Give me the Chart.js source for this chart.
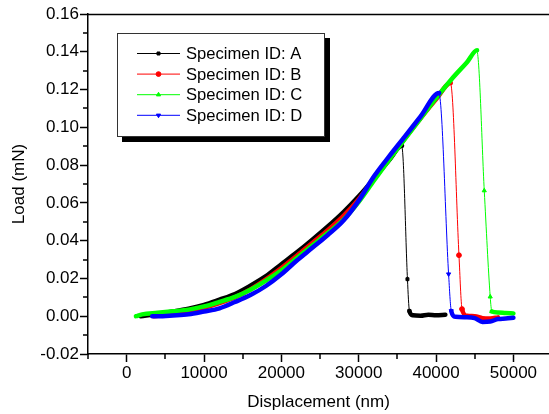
<!DOCTYPE html>
<html>
<head>
<meta charset="utf-8">
<script src="https://cdn.jsdelivr.net/npm/chart.js@4/dist/chart.umd.min.js"></script>
<style>
  html, body { margin: 0; padding: 0; background: #fff; }
  #wrap { width: 549px; height: 414px; }
</style>
</head>
<body>
<div id="wrap"><canvas id="c" width="549" height="414"></canvas></div>
<script>
// Specimen A (black)
const xA = [1800, 4000, 6000, 8000, 10000, 12000, 14000, 16000, 18000, 20000, 22000, 24000, 26000, 28000, 30000, 32000, 34000, 35600, 36300, 36550, 37000, 38000, 39000, 40000, 41200];
const yA = [0.0000, 0.0012, 0.0025, 0.0040, 0.0060, 0.0088, 0.0118, 0.0162, 0.0212, 0.0275, 0.0338, 0.0405, 0.0475, 0.0550, 0.0635, 0.0730, 0.0830, 0.0902, 0.0196, 0.0028, 0.0005, 0.0003, 0.0008, 0.0005, 0.0008];

// Specimen B (red)
const xB = [3500, 6000, 8000, 10000, 12000, 14000, 16000, 18000, 20000, 22000, 24000, 26000, 28000, 30000, 32000, 34000, 36000, 38000, 40000, 41900, 42960, 43350, 44000, 45000, 46000, 47000, 48000];
const yB = [0.0000, 0.0012, 0.0025, 0.0045, 0.0070, 0.0100, 0.0142, 0.0195, 0.0255, 0.0320, 0.0388, 0.0455, 0.0530, 0.0620, 0.0728, 0.0836, 0.0943, 0.1048, 0.1148, 0.1235, 0.0323, 0.0038, 0.0002, 0.0000, -0.0010, -0.0012, -0.0006];

// Specimen C (green)
const xC = [1200, 2000, 4000, 6000, 8000, 10000, 12000, 14000, 16000, 18000, 20000, 22000, 24000, 26000, 28000, 30000, 32000, 34000, 36000, 38000, 40000, 42000, 44000, 45300, 46230, 47000, 47200, 48000, 49000, 50000];
const yC = [0.0000, 0.0010, 0.0018, 0.0026, 0.0035, 0.0052, 0.0076, 0.0102, 0.0140, 0.0188, 0.0243, 0.0308, 0.0375, 0.0440, 0.0510, 0.0605, 0.0720, 0.0832, 0.0940, 0.1048, 0.1155, 0.1255, 0.1345, 0.1408, 0.0665, 0.0103, 0.0025, 0.0020, 0.0017, 0.0015];

// Specimen D (blue)
const xD = [3300, 4000, 6000, 8000, 10000, 12000, 14000, 16000, 18000, 20000, 22000, 24000, 26000, 28000, 30000, 32000, 34000, 36000, 38000, 40400, 41620, 41960, 42500, 44000, 45000, 46000, 47000, 48000, 49000, 50000];
const yD = [0.0000, 0.0000, 0.0004, 0.0010, 0.0025, 0.0042, 0.0075, 0.0112, 0.0160, 0.0222, 0.0295, 0.0362, 0.0430, 0.0505, 0.0612, 0.0742, 0.0850, 0.0953, 0.1058, 0.1182, 0.0223, 0.0028, -0.0003, -0.0005, -0.0010, -0.0030, -0.0028, -0.0015, -0.0012, -0.0008];

const labels = ["Specimen ID: A", "Specimen ID: B", "Specimen ID: C", "Specimen ID: D"];
const xTicks = [0, 10000, 20000, 30000, 40000, 50000];
const xMinor = [-5000, 5000, 15000, 25000, 35000, 45000];
const yTicks = [-0.02, 0, 0.02, 0.04, 0.06, 0.08, 0.10, 0.12, 0.14, 0.16];
const yMinor = [-0.01, 0.01, 0.03, 0.05, 0.07, 0.09, 0.11, 0.13, 0.15];

const FONT = "'Liberation Sans', Arial, sans-serif";

function pts(xs, ys) {
  return xs.map((x, i) => ({ x: x, y: ys[i] }));
}

function markSize(style) {
  return style === "rect" ? 2.1 : 2.4;
}

// markers only on the unloading drop, like the sparse points in the original
function dropRadius(r) {
  return (ctx) => {
    const d = ctx.dataset.data;
    const i = ctx.dataIndex;
    return i > 0 && d[i].y - d[i - 1].y < -0.005 ? r : 0;
  };
}

function makeSet(label, xs, ys, color, style, rot, order) {
  return {
    label: label,
    data: pts(xs, ys),
    borderColor: color,
    backgroundColor: color,
    borderWidth: 4.5,
    borderJoinStyle: "round",
    borderCapStyle: "round",
    cubicInterpolationMode: "monotone",
    pointStyle: style,
    pointRotation: rot,
    pointRadius: dropRadius(markSize(style)),
    pointBorderWidth: 1,
    order: order,
    segment: {
      borderWidth: (ctx) => (ctx.p1.y - ctx.p0.y > 8 ? 1 : 4.5)
    }
  };
}

const frame = {
  id: "frame",
  afterDraw(chart) {
    const c = chart.ctx;
    const a = chart.chartArea;
    const xs = chart.scales.x, ys = chart.scales.y;
    c.save();
    c.strokeStyle = "#000";
    c.lineWidth = 1.5;
    // top border
    c.beginPath();
    c.moveTo(a.left, a.top + 0.5);
    c.lineTo(a.right, a.top + 0.5);
    c.stroke();
    // minor ticks
    c.beginPath();
    xMinor.forEach(v => {
      const px = Math.round(xs.getPixelForValue(v));
      c.moveTo(px, a.bottom);
      c.lineTo(px, a.bottom + 5);
    });
    yMinor.forEach(v => {
      const py = Math.round(ys.getPixelForValue(v));
      c.moveTo(a.left, py);
      c.lineTo(a.left - 5, py);
    });
    c.stroke();

    // legend box with shadow
    const L = 117, T = 33, R = 325, B = 137;
    c.fillStyle = "#000";
    c.fillRect(L + 5, B, R - L, 5);
    c.fillRect(R, T + 5, 5, B - T);
    c.fillStyle = "#fff";
    c.fillRect(L, T, R - L, B - T);
    c.lineWidth = 1;
    c.strokeStyle = "#333";
    c.strokeRect(L + 0.5, T + 0.5, R - L - 1, B - T - 1);

    c.font = "16.6px " + FONT;
    c.textBaseline = "middle";
    c.textAlign = "left";
    chart.data.datasets.forEach((ds, i) => {
      const yy = 53.5 + i * 20.6;
      c.strokeStyle = ds.borderColor;
      c.lineWidth = 1;
      c.beginPath();
      c.moveTo(137, yy);
      c.lineTo(180, yy);
      c.stroke();
      c.fillStyle = ds.borderColor;
      Chart.helpers.drawPoint(c, {
        pointStyle: ds.pointStyle,
        rotation: ds.pointRotation,
        radius: markSize(ds.pointStyle),
        borderWidth: 1
      }, 158.5, yy);
      c.fillStyle = "#000";
      c.fillText(ds.label, 186, yy + 1);
    });
    c.restore();
  }
};

new Chart(document.getElementById("c"), {
  type: "line",
  data: {
    datasets: [
      makeSet(labels[0], xA, yA, "#000000", "rect", 0, 4),
      makeSet(labels[1], xB, yB, "#ff0000", "circle", 0, 3),
      makeSet(labels[2], xC, yC, "#00ff00", "triangle", 0, 2),
      makeSet(labels[3], xD, yD, "#0000ff", "triangle", 180, 1)
    ]
  },
  options: {
    responsive: false,
    animation: false,
    events: [],
    layout: { padding: { top: 14, left: 0, right: 0, bottom: 0 } },
    plugins: { legend: { display: false }, tooltip: { enabled: false } },
    scales: {
      x: {
        type: "linear",
        min: -5000,
        max: 54600,
        afterBuildTicks: (s) => { s.ticks = xTicks.map(v => ({ value: v })); },
        afterFit: (s) => { s.height = 60; },
        border: { color: "#000", width: 1.5 },
        grid: { drawOnChartArea: false, tickLength: 8, tickColor: "#000", tickWidth: 1.5 },
        ticks: {
          color: "#000",
          font: { family: FONT, size: 17 },
          padding: 1,
          maxRotation: 0,
          callback: (v) => String(v)
        },
        title: {
          display: true,
          text: "Displacement (nm)",
          color: "#000",
          font: { family: FONT, size: 17 },
          padding: { top: 0, bottom: 1 }
        }
      },
      y: {
        type: "linear",
        min: -0.02,
        max: 0.16,
        afterBuildTicks: (s) => { s.ticks = yTicks.map(v => ({ value: v })); },
        afterFit: (s) => { s.width = 88; },
        border: { color: "#000", width: 1.5 },
        grid: { drawOnChartArea: false, tickLength: 8, tickColor: "#000", tickWidth: 1.5 },
        ticks: {
          color: "#000",
          font: { family: FONT, size: 17 },
          padding: 1,
          callback: (v) => v.toFixed(2)
        },
        title: {
          display: true,
          text: "Load (mN)",
          color: "#000",
          font: { family: FONT, size: 17 },
          padding: { top: 9, bottom: 0 }
        }
      }
    }
  },
  plugins: [frame]
});
</script>
</body>
</html>
